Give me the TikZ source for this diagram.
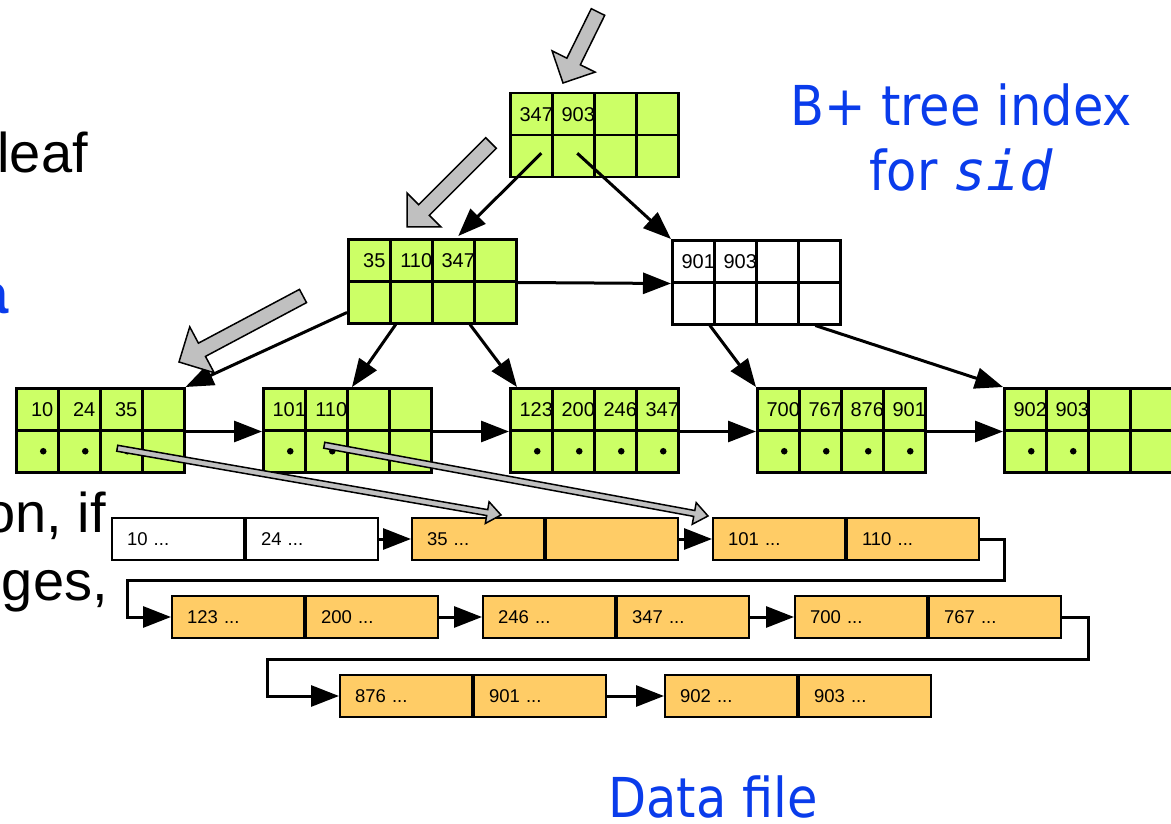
\documentclass[tikz,border=0pt]{standalone}
\usepackage{fontspec}
\setmainfont{Liberation Sans}
\newfontfamily\titlefont{DejaVu Sans Condensed}
\newfontfamily\sidfont{DejaVu Sans Mono Oblique}
\usetikzlibrary{arrows.meta}
\usetikzlibrary{calc}
\definecolor{leafgreen}{RGB}{204,255,102}
\definecolor{recorange}{RGB}{255,204,102}
\definecolor{arrowgrey}{RGB}{192,192,192}
\definecolor{titleblue}{RGB}{10,60,235}
\tikzset{
  cell/.style={draw, line width=2.5pt, minimum width=42pt, minimum height=42pt,
               inner sep=0pt, anchor=north west},
  keytext/.style={font=\fontsize{20}{22}\selectfont, inner sep=0pt},
  recpart/.style={draw, line width=2pt, minimum height=42pt, inner xsep=15pt,
                  inner ysep=0pt, text width=102pt, align=left, anchor=north west,
                  font=\fontsize{18.5}{20}\selectfont},
  link/.style={line width=3pt, -{Triangle[length=28pt,width=21pt]}},
  slidetext/.style={anchor=base east, inner sep=0pt, font=\fontsize{56}{60}\selectfont},
  bluetext/.style={text=titleblue, font=\titlefont\fontsize{55}{65}\selectfont},
}
\newcommand{\treenode}[5]{%
  \foreach \k [count=\i] in {#4} {
    \node[cell, fill=#5, label={[keytext, xshift=5pt]center:\k}] (#1-\i) at ({#2+42*(\i-1)}, #3) {};
    \node[cell, fill=#5] (#1-b\i) at ({#2+42*(\i-1)}, {#3+42}) {};
  }
}
\newcommand{\record}[6]{%
  \node[recpart, fill=#4] (#1-1) at (#2, #3) {#5};
  \node[recpart, fill=#4] (#1-2) at (#1-1.north east) {#6};
}
\newcommand{\greyarrow}[5]{%
  \path ($(#2)!#4!(#1)$) coordinate (#1-h);
  \filldraw[fill=arrowgrey, line width=1.5pt, line join=miter]
    ($(#1)!#3!90:(#2)$) -- ($(#1-h)!#3!90:(#2)$) -- ($(#1-h)!#5!90:(#2)$)
    -- (#2) -- ($(#1-h)!#5!-90:(#2)$) -- ($(#1-h)!#3!-90:(#2)$)
    -- ($(#1)!#3!-90:(#2)$) -- cycle;
}

\begin{document}
\begin{tikzpicture}[x=1pt, y=-1pt]
    \path[use as bounding box] (0,0) rectangle (1171,824);
    \clip (0,0) rectangle (1171,824);

    \node[slidetext] (leaftxt) at (88,173) {leaf};
    \node[slidetext, text=titleblue, font=\fontsize{56}{60}\selectfont\bfseries] (atxt) at (9,313) {a};
    \node[slidetext] (iftxt) at (106,532) {on, if};
    \node[slidetext] (gestxt) at (108,600) {ges,};

    \node[bluetext, align=center, anchor=base] (title) at (961,190) {B+ tree index\\for {\sidfont sid}};
    \node[bluetext, anchor=base] (datafile) at (713,817) {Data file};

    \treenode{root}{509}{92}{347,903,{},{}}{leafgreen}
    \treenode{intl}{347}{238}{35,110,347,{}}{leafgreen}
    \treenode{intr}{671}{239}{901,903,{},{}}{white}
    \treenode{leaf1}{15}{387}{10,24,35,{}}{leafgreen}
    \treenode{leaf2}{262}{387}{101,110,{},{}}{leafgreen}
    \treenode{leaf3}{509}{387}{123,200,246,347}{leafgreen}
    \treenode{leaf4}{756}{387}{700,767,876,901}{leafgreen}
    \treenode{leaf5}{1003}{387}{902,903,{},{}}{leafgreen}

    \foreach \n/\m in {leaf1/3, leaf2/2, leaf3/4, leaf4/4, leaf5/2}
      \foreach \i in {1,...,\m}
        \fill ([xshift=6pt]\n-b\i.center) circle (3.3pt);

    \draw[link] ([xshift=10pt,yshift=3pt]root-b1.center) -- ([xshift=5pt,yshift=2pt]intl-3.north);
    \draw[link] ([xshift=4pt,yshift=3pt]root-b2.center) -- (intr-1.north west);
    \draw[link] (intl-4.south east) -- (intr-1.south west);
    \draw[link] (intl-b1) -- (leaf1-4.north east);
    \draw[link] (intl-b2) -- ([xshift=6pt]leaf2-3.north west);
    \draw[link] (intl-b3) -- ([xshift=8pt]leaf3-1.north west);
    \draw[link] (intr-b1) -- (leaf4-1.north west);
    \draw[link] ([xshift=-4pt]intr-b4.south) -- (leaf5-1.north west);
    \draw[link] (leaf1-4.south east) -- (leaf2-1.south west);
    \draw[link] (leaf2-4.south east) -- (leaf3-1.south west);
    \draw[link] (leaf3-4.south east) -- (leaf4-1.south west);
    \draw[link] (leaf4-4.south east) -- (leaf5-1.south west);

    \coordinate (g1a) at (598,12);
    \coordinate (g1b) at (563,83);
    \coordinate (g2a) at (491,143);
    \coordinate (g2b) at (407,227);
    \coordinate (g3a) at (303,296);
    \coordinate (g3b) at (179,362);
    \greyarrow{g1a}{g1b}{7.5pt}{24pt}{24pt}
    \greyarrow{g2a}{g2b}{7.5pt}{24pt}{24pt}
    \greyarrow{g3a}{g3b}{7.5pt}{26pt}{26pt}

    \record{rec1}{111}{517}{white}{10 ...}{24 ...}
    \record{rec2}{411}{517}{recorange}{35 ...}{}
    \record{rec3}{712}{517}{recorange}{101 ...}{110 ...}
    \record{rec4}{171}{595}{recorange}{123 ...}{200 ...}
    \record{rec5}{482}{595}{recorange}{246 ...}{347 ...}
    \record{rec6}{794}{595}{recorange}{700 ...}{767 ...}
    \record{rec7}{339}{674}{recorange}{876 ...}{901 ...}
    \record{rec8}{664}{674}{recorange}{902 ...}{903 ...}

    \coordinate (wrap1) at (127,580);
    \coordinate (wrap2) at (267,659);
    \draw[link] (rec1-2.east) -- (rec2-1.west);
    \draw[link] (rec2-2.east) -- (rec3-1.west);
    \draw[link] (rec3-2.east) -- ++(24,0) |- (wrap1) |- (rec4-1.west);
    \draw[link] (rec4-2.east) -- (rec5-1.west);
    \draw[link] (rec5-2.east) -- (rec6-1.west);
    \draw[link] (rec6-2.east) -- ++(26,0) |- (wrap2) |- (rec7-1.west);
    \draw[link] (rec7-2.east) -- (rec8-1.west);

    \coordinate (p1a) at ([xshift=-4pt,yshift=3pt]leaf1-b3.center);
    \coordinate (p1b) at ([xshift=23pt,yshift=2pt]rec2-1.north);
    \coordinate (p2a) at ([xshift=-2pt,yshift=6pt]leaf2-b2.center);
    \coordinate (p2b) at ([xshift=-4pt,yshift=1pt]rec3-1.north west);
    \greyarrow{p1a}{p1b}{3pt}{14pt}{11pt}
    \greyarrow{p2a}{p2b}{3pt}{14pt}{11pt}
\end{tikzpicture}
\end{document}
